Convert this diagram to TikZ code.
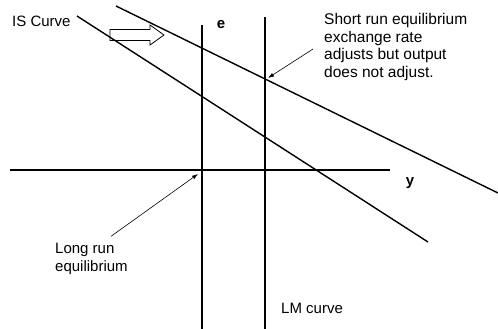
\documentclass[tikz,border=0pt]{standalone}
\usepackage{fontspec}
\setmainfont{Liberation Sans}
\usetikzlibrary{arrows.meta}
\tikzset{curve/.style={line width=1.4pt},
         note/.style={font=\fontsize{15}{17.5}\selectfont, align=left, anchor=west, inner sep=0pt},
         axislabel/.style={font=\fontsize{15}{17.5}\selectfont\bfseries, inner sep=0pt},
         pointer/.style={line width=0.6pt, -{Latex[length=6pt,width=4pt]}}}
\begin{document}
\begin{tikzpicture}[x=1pt, y=-1pt]
                    \useasboundingbox (0,0) rectangle (498,329);
                    \coordinate (lr top) at (202,25); \coordinate (lr bot) at (202,329);
                    \coordinate (lm top) at (265,17); \coordinate (lm bot) at (265,329);
                    \coordinate (y left) at (10,170); \coordinate (y right) at (390,170);
                    \coordinate (is a) at (77,16); \coordinate (is b) at (428,242);
                    \coordinate (is2 a) at (116,6); \coordinate (is2 b) at (498,193);
                    \foreach \a/\b in {lr top/lr bot, lm top/lm bot, y left/y right, is a/is b, is2 a/is2 b} \draw[curve] (\a) -- (\b);
                    \draw[line width=0.8pt] (110,29.5) -- (150,29.5) -- (150,25) -- (164,35) -- (150,45) -- (150,40.5) -- (110,40.5) -- cycle;
                    \node[note] (is) at (12,21) {IS Curve};
                    \node[axislabel] (e) at (221,25) {e};
                    \node[axislabel] (y) at (410,183) {y};
                    \node[note, font=\fontsize{15.5}{17.5}\selectfont] (short) at (324,47) {Short run equilibrium\\exchange rate\\adjusts but output\\does not adjust.};
                    \node[note] (long) at (55,259) {Long run\\equilibrium};
                    \node[note] (lm) at (281,308) {LM curve};
                    \coordinate (sr) at (265,79); \coordinate (lrp) at (202,170);
                    \draw[pointer] (short.west) ++(-11,2) coordinate (sr from) (sr from) -- ([shift={(3,-1)}]sr);
                    \draw[pointer] (long.north west) ++(56,-7) coordinate (lr from) (lr from) -- ([shift={(-4,4)}]lrp);
                \end{tikzpicture}
\end{document}
